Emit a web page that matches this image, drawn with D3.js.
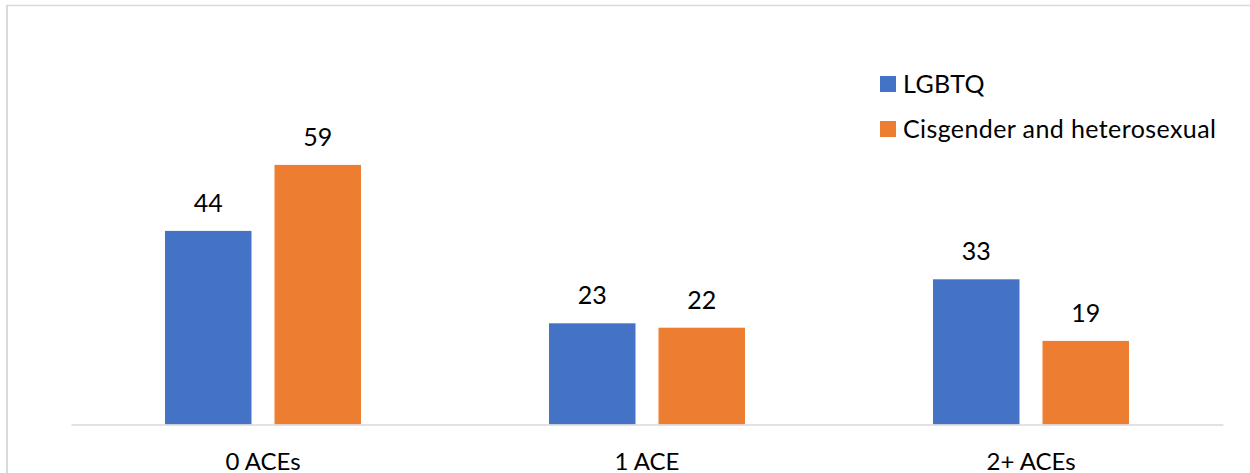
<!DOCTYPE html>
<html>
<head>
<meta charset="utf-8">
<style>
    body { margin: 0; background: #fff; }
    svg text { font-family: Lato, "Open Sans", sans-serif; fill: #000; }
</style>
</head>
<body>
    <svg width="1250" height="473"></svg>
    <script src="https://cdn.jsdelivr.net/npm/d3@7"></script>
    <script>
    const categories = ["0 ACEs", "1 ACE", "2+ ACEs"];
    const seriesNames = ["LGBTQ", "Cisgender and heterosexual"];
    const lgbtq = [44, 23, 33];
    const cishet = [59, 22, 19];
    const colors = ["#4472C4", "#ED7D31"];

    const svg = d3.select("svg");
    const width = +svg.attr("width");
    const height = +svg.attr("height");

    // chart frame (only top + left edges show in the crop)
    svg.append("line")
        .attr("x1", 6).attr("y1", 5.5).attr("x2", width).attr("y2", 5.5)
        .attr("stroke", "#d9d9d9").attr("stroke-width", 1.5);
    svg.append("line")
        .attr("x1", 7).attr("y1", 5).attr("x2", 7).attr("y2", height)
        .attr("stroke", "#d9d9d9").attr("stroke-width", 2);

    const plot = { left: 71, right: 1223, top: 116.5, bottom: 424.5 };

    const x = d3.scaleBand()
        .domain(categories)
        .range([plot.left, plot.right]);

    const y = d3.scaleLinear()
        .domain([0, 70])
        .range([plot.bottom, plot.top]);

    const barW = 86.5, gap = 23;
    const sub = d3.scaleOrdinal()
        .domain(seriesNames)
        .range([-(gap / 2 + barW), gap / 2]);

    const rows = categories.map((c, i) => ({ cat: c, vals: [lgbtq[i], cishet[i]] }));

    const groups = svg.selectAll("g.grp")
        .data(rows)
        .join("g")
        .attr("class", "grp")
        .attr("transform", d => `translate(${x(d.cat) + x.bandwidth() / 2},0)`);

    groups.selectAll("rect")
        .data(d => d.vals.map((v, j) => ({ name: seriesNames[j], v, j })))
        .join("rect")
        .attr("x", d => sub(d.name))
        .attr("width", barW)
        .attr("y", d => y(d.v))
        .attr("height", d => y(0) - y(d.v))
        .attr("fill", d => colors[d.j]);

    groups.selectAll("text.val")
        .data(d => d.vals.map((v, j) => ({ name: seriesNames[j], v, j })))
        .join("text")
        .attr("class", "val")
        .attr("x", d => sub(d.name) + barW / 2)
        .attr("y", d => y(d.v) - 19)
        .attr("text-anchor", "middle")
        .style("font-size", "25px")
        .text(d => d.v);

    // category axis
    const xAxis = svg.append("g")
        .attr("transform", `translate(0,${plot.bottom})`)
        .call(d3.axisBottom(x).tickSize(0).tickPadding(0));
    xAxis.select(".domain").attr("stroke", "#d9d9d9").attr("stroke-width", 1.5);
    xAxis.selectAll("text")
        .attr("y", 45)
        .attr("dy", null)
        .style("font-size", "24px")
        .style("font-family", "Lato, 'Open Sans', sans-serif")
        .attr("fill", "#000");

    // legend
    const legend = svg.append("g").attr("transform", "translate(880,76)");
    const items = legend.selectAll("g")
        .data(seriesNames)
        .join("g")
        .attr("transform", (d, i) => `translate(0,${i * 45})`);
    items.append("rect")
        .attr("width", 16).attr("height", 16)
        .attr("fill", (d, i) => colors[i]);
    items.append("text")
        .attr("x", 23).attr("y", 17)
        .style("font-size", "25px")
        .style("letter-spacing", "0.4px")
        .text(d => d);
    </script>
</body>
</html>
